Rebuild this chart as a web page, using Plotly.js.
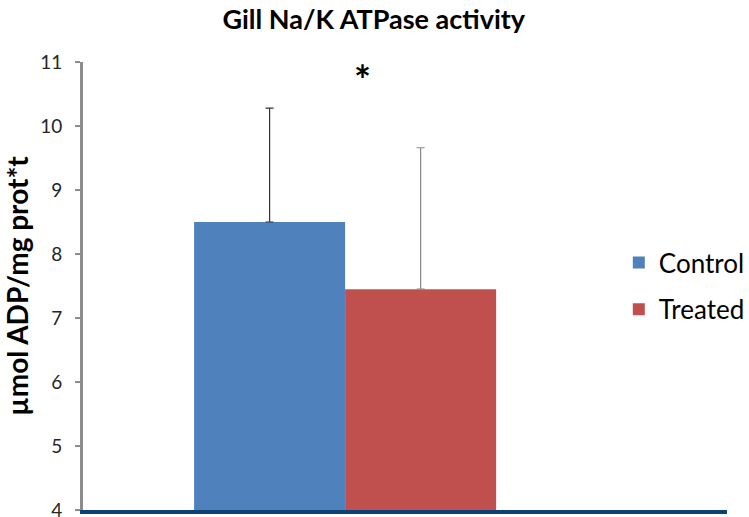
<!DOCTYPE html>
<html><head><meta charset="utf-8">
<script src="https://cdn.plot.ly/plotly-3.0.1.min.js"></script>
<style>html,body{margin:0;padding:0;background:#fff}#chart{width:749px;height:517px}</style>
</head><body><div id="chart"></div>
<script>
const categories = ["Gill"];
const seriesNames = ["Control", "Treated"];
const controlValues = [8.50];
const treatedValues = [7.45];
const controlErrors = [1.78];
const treatedErrors = [2.21];
const yTickValues = [4, 5, 6, 7, 8, 9, 10, 11];

const fontFam = "Lato, 'Open Sans', 'Liberation Sans', sans-serif";

function zeros(arr) { return arr.map(() => 0); }

const traces = [
  {type: "bar", name: seriesNames[0], x: categories, y: controlValues, legendgroup: "a",
   marker: {color: "#4f81bd", line: {width: 0}},
   error_y: {type: "data", array: controlErrors, arrayminus: zeros(controlErrors), symmetric: false, color: "#333333", thickness: 1.2, width: 4}},
  {type: "bar", name: seriesNames[1], x: categories, y: treatedValues, legendgroup: "b",
   marker: {color: "#c0504d", line: {width: 0}},
   error_y: {type: "data", array: treatedErrors, arrayminus: zeros(treatedErrors), symmetric: false, color: "#888888", thickness: 1.2, width: 4}}
];

const layout = {
  width: 749, height: 517,
  margin: {l: 83, r: 22, t: 62, b: 7, autoexpand: false},
  paper_bgcolor: "#ffffff", plot_bgcolor: "#ffffff",
  barmode: "group", bargap: 0.531, bargroupgap: 0,
  title: {text: "<b>Gill Na/K ATPase activity</b>", x: 0.499, xanchor: "center", y: 0.962, yanchor: "middle",
          font: {family: fontFam, size: 27, color: "#000000"}},
  xaxis: {type: "category", range: [-0.407, 0.593], showticklabels: false, ticks: "",
          showline: true, linecolor: "#0f4177", linewidth: 4, showgrid: false, zeroline: false, fixedrange: true},
  yaxis: {range: [4, 11], tickvals: yTickValues, ticks: "outside", ticklen: 5, tickwidth: 2, tickcolor: "#8c8c8c",
          showline: true, linecolor: "#8c8c8c", linewidth: 3, showgrid: false, zeroline: false,
          ticklabelstandoff: 9, ticklabeloverflow: "allow",
          tickfont: {family: fontFam, size: 19, color: "#262626"},
          title: {text: "<b>µmol ADP/mg prot*t</b>", standoff: 5, font: {family: fontFam, size: 28, color: "#000000"}}},
  legend: {x: 0.832, xanchor: "left", y: 0.5, yanchor: "middle", traceorder: "grouped", tracegroupgap: 10,
           font: {family: fontFam, size: 26, color: "#000000"}, bgcolor: "rgba(0,0,0,0)", itemwidth: 30},
  annotations: [{x: 0.027, y: 10.72, xref: "x", yref: "y", text: "<b>*</b>", showarrow: false,
                 font: {family: fontFam, size: 40, color: "#000000"}}]
};

Plotly.newPlot("chart", traces, layout, {displayModeBar: false, staticPlot: true});
</script>
</body></html>
